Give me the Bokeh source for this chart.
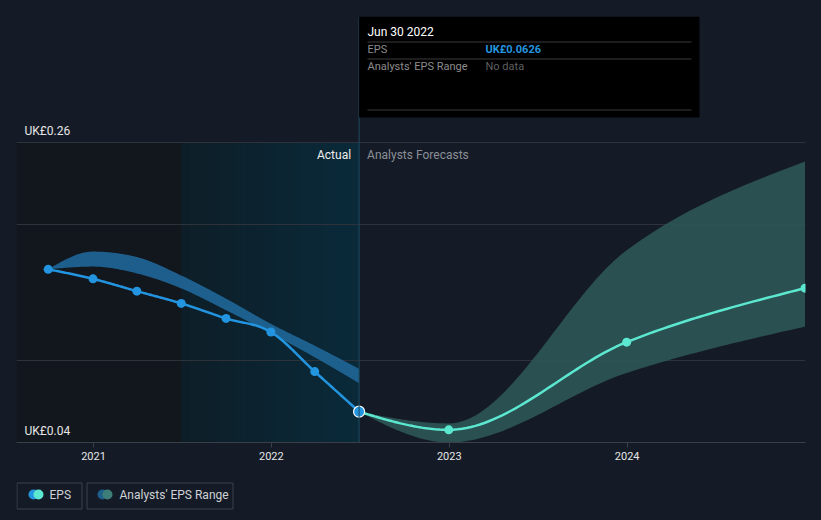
import numpy as np
import pandas as pd
from bokeh.plotting import figure
from bokeh.models import (Range1d, FixedTicker, DatetimeTickFormatter, Label,
                          BoxAnnotation, Span)
from bokeh.layouts import column
from bokeh.core.properties import value
from bokeh.embed import file_html
from bokeh.resources import INLINE

# ---------------- data ----------------
actual_dates = ["2020-09-30", "2020-12-31", "2021-03-31", "2021-06-30",
                "2021-09-30", "2021-12-31", "2022-03-31", "2022-06-30"]
actual_eps = [0.167, 0.160, 0.151, 0.142, 0.131, 0.121, 0.092, 0.0626]
past_range_upper = [0.167, 0.180, 0.176, 0.1625, 0.1455, 0.127, 0.111, 0.094]
past_range_lower = [0.167, 0.169, 0.164, 0.153, 0.137, 0.120, 0.1025, 0.0835]

forecast_dates = ["2022-06-30", "2022-12-31", "2023-12-31", "2024-12-31"]
forecast_eps = [0.0626, 0.0493, 0.1136, 0.1532]
forecast_upper = [0.0626, 0.054, 0.181, 0.246]
forecast_lower = [0.0626, 0.040, 0.091, 0.125]

tick_years = ["2021", "2022", "2023", "2024"]
y_label_values = [0.04, 0.26]
y_grid_values = [0.04, 0.10, 0.20, 0.26]
history_split = "2021-06-30"
x_start_date = "2020-07-27"
x_end_date = "2025-01-01"

# ---------------- helpers ----------------
def ms(d):
    return pd.Timestamp(d).value / 1e6

def monotone(xs, ys, n=40):
    x = np.asarray(xs, float); y = np.asarray(ys, float)
    h = np.diff(x); s = np.diff(y) / h
    m = np.zeros_like(y)
    for i in range(1, len(y) - 1):
        if s[i - 1] * s[i] <= 0:
            m[i] = 0.0
        else:
            p = (s[i - 1] * h[i] + s[i] * h[i - 1]) / (h[i - 1] + h[i])
            m[i] = (np.sign(s[i - 1]) + np.sign(s[i])) * min(abs(s[i - 1]), abs(s[i]), 0.5 * abs(p))
    if len(y) > 2:
        m[0] = (3 * s[0] - m[1]) / 2
        m[-1] = (3 * s[-1] - m[-2]) / 2
    else:
        m[0] = m[-1] = s[0]
    ox, oy = [], []
    for i in range(len(h)):
        t = np.linspace(0, 1, n, endpoint=(i == len(h) - 1))
        h00 = 2 * t**3 - 3 * t**2 + 1; h10 = t**3 - 2 * t**2 + t
        h01 = -2 * t**3 + 3 * t**2; h11 = t**3 - t**2
        ox.append(x[i] + t * h[i])
        oy.append(h00 * y[i] + h10 * h[i] * m[i] + h01 * y[i + 1] + h11 * h[i] * m[i + 1])
    return np.concatenate(ox), np.concatenate(oy)

BG = "#151b26"
FONT = "Roboto"
W, H_MAIN, H_LEG = 821, 470, 50
FL, FR, FT, FB = 16, 805, 16, 442

x0, x1 = ms(x_start_date), ms(x_end_date)
y_lo = min(y_label_values)
y_span_per_px = (max(y_label_values) - min(y_label_values)) / 300.0
y_hi = y_lo + (FB - FT) * y_span_per_px

def px_x(px):
    return x0 + (px - FL) / (FR - FL) * (x1 - x0)

def px_y(py):
    return y_lo + (FB - py) / (FB - FT) * (y_hi - y_lo)

ax = [ms(d) for d in actual_dates]
fx = [ms(d) for d in forecast_dates]
split = ms(history_split)
fstart = ms(forecast_dates[0])
top_val = max(y_label_values)

# ---------------- main figure ----------------
p = figure(width=W, height=H_MAIN, x_axis_type="datetime", output_backend="svg",
           toolbar_location=None, x_range=Range1d(x0, x1), y_range=Range1d(y_lo, y_hi),
           min_border_left=FL, min_border_right=W - FR, min_border_top=FT,
           min_border_bottom=H_MAIN - FB, y_axis_location=None)
p.background_fill_color = BG
p.border_fill_color = BG
p.outline_line_color = None

# background regions
p.quad(left=[x0], right=[split], bottom=[y_lo], top=[top_val],
       fill_color="#12161d", line_color=None, level="image")
n_strip = 24
edges = np.linspace(split, fstart, n_strip + 1)
c0 = np.array([0x0d, 0x1e, 0x28]); c1 = np.array([0x0a, 0x2a, 0x39])
cols = ["#%02x%02x%02x" % tuple(np.round(c0 + (c1 - c0) * f).astype(int))
        for f in np.linspace(0, 1, n_strip)]
p.quad(left=edges[:-1], right=[fstart] * n_strip, bottom=[y_lo] * n_strip,
       top=[top_val] * n_strip, fill_color=cols, line_color=None, level="image")

# grid
p.xgrid.visible = False
p.ygrid.ticker = FixedTicker(ticks=y_grid_values)
p.ygrid.grid_line_color = "#2d323b"
p.ygrid.grid_line_width = 1

# x axis
p.xaxis.ticker = FixedTicker(ticks=[ms(f"{y}-01-01") for y in tick_years])
p.xaxis.formatter = DatetimeTickFormatter(years="%Y", months="%Y", days="%Y")
p.xaxis.axis_line_color = "#3a3f48"
p.xaxis.major_tick_line_color = "#3a3f48"
p.xaxis.major_tick_out = 5
p.xaxis.major_tick_in = 0
p.xaxis.minor_tick_line_color = None
p.xaxis.major_label_text_color = "#e6e6e6"
p.xaxis.major_label_text_font = FONT
p.xaxis.major_label_text_font_size = "11px"
p.xaxis.major_label_standoff = 4

# past analyst band
bx, bu = monotone(ax, past_range_upper)
_, bl = monotone(ax, past_range_lower)
p.varea(x=bx, y1=bl, y2=bu, fill_color="#1f6596", fill_alpha=0.92)

# forecast band
fbx, fbu = monotone(fx, forecast_upper)
_, fbl = monotone(fx, forecast_lower)
p.varea(x=fbx, y1=fbl, y2=fbu, fill_color="#2c5656", fill_alpha=0.9)

# lines
lx, ly = monotone(ax, actual_eps)
p.line(lx, ly, line_color="#2394df", line_width=2.5)
flx, fly = monotone(fx, forecast_eps)
p.line(flx, fly, line_color="#5ce8d0", line_width=2.5)
p.scatter(ax[:-1], actual_eps[:-1], size=9, fill_color="#2394df", line_color=None)
p.scatter(fx[1:], forecast_eps[1:], size=9, fill_color="#5ce8d0", line_color=None)
p.scatter([ax[-1]], [actual_eps[-1]], size=11, fill_color="#2394df",
          line_color="#ffffff", line_width=1.2)

# labels
for v in y_label_values:
    p.add_layout(Label(x=x0, y=v, x_offset=8, y_offset=12, text=f"UK£{v:.2f}",
                       text_baseline="middle", text_color="#e6e6e6",
                       text_font=FONT, text_font_size="12px"))
p.add_layout(Label(x=fstart, y=top_val, x_offset=-8, y_offset=-12, text="Actual",
                   text_align="right", text_baseline="middle", text_color="#eeeeee",
                   text_font=FONT, text_font_size="12px"))
p.add_layout(Label(x=fstart, y=top_val, x_offset=8, y_offset=-12, text="Analysts Forecasts",
                   text_align="left", text_baseline="middle", text_color="#8a8f96",
                   text_font=FONT, text_font_size="12px"))

# vertical marker and tooltip
p.add_layout(Span(location=fstart, dimension="height", line_color="#1f4b5e", line_width=1))
p.add_layout(BoxAnnotation(left=fstart, right=px_x(699), top=y_hi, bottom=px_y(117),
                           fill_color="#000000", fill_alpha=1.0, line_alpha=0))
for sy in (41, 58, 109):
    p.add_layout(BoxAnnotation(left=px_x(367), right=px_x(691), top=px_y(sy), bottom=px_y(sy + 1),
                               fill_color="#3a3a3a", fill_alpha=1.0, line_alpha=0))
tip_date = pd.Timestamp(forecast_dates[0]).strftime("%b %d %Y")
tips = [
    (367, 31, tip_date, "#ffffff", "normal", "12px"),
    (367, 49, "EPS", "#8c8c8c", "normal", "11px"),
    (485, 49, f"UK£{actual_eps[-1]:.4f}", "#2394df", "bold", "11px"),
    (367, 66, "Analysts' EPS Range", "#8c8c8c", "normal", "11px"),
    (485, 66, "No data", "#5f5f5f", "normal", "11px"),
]
for tx, ty, tt, tc, fs, fz in tips:
    p.add_layout(Label(x=px_x(tx), y=px_y(ty), text=tt, text_baseline="middle",
                       text_color=tc, text_font_style=fs, text_font=FONT, text_font_size=fz))

# ---------------- legend figure ----------------
# column layout aligns this frame with the main frame (FL..FR), so data x == page px
lg = figure(width=W, height=H_LEG, output_backend="svg", toolbar_location=None,
            x_range=Range1d(FL, FR), y_range=Range1d(H_LEG, 0),
            min_border_left=FL, min_border_right=W - FR, min_border_top=0,
            min_border_bottom=0, x_axis_location=None, y_axis_location=None)
lg.background_fill_color = BG
lg.border_fill_color = BG
lg.outline_line_color = None
lg.grid.visible = False
lg.quad(left=[16.5, 86.5], right=[81.5, 232.5], top=[12.5, 12.5], bottom=[38.5, 38.5],
        fill_color=None, line_color="#3c414a", line_width=1)
lg.scatter([33, 38], [24, 24], size=10, fill_color=["#2394df", "#5ce8d0"], line_color=None)
lg.scatter([102, 107], [24, 24], size=10, fill_color=["#1f5f8c", "#3e7e78"], line_color=None)
lg.text(x=[49, 119], y=[24.5, 24.5], text=["EPS", "Analysts' EPS Range"],
        text_baseline="middle", text_color="#cfd2d6", text_font=value(FONT),
        text_font_size="12px")

layout = column(p, lg, spacing=0, styles={"background-color": BG})
open("out.html", "w").write(file_html(layout, INLINE))
